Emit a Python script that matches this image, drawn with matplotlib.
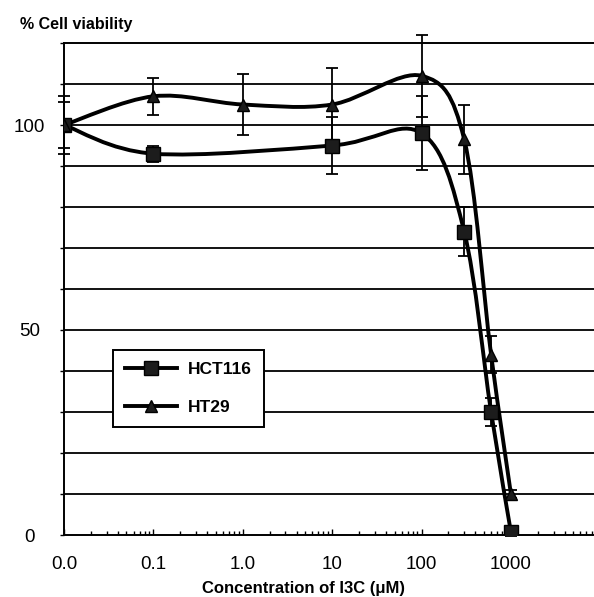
import numpy as np
import matplotlib.pyplot as plt
from matplotlib.path import Path
from matplotlib.patches import PathPatch
from matplotlib.lines import Line2D

plt.rcParams['font.family'] = ['Liberation Sans', 'DejaVu Sans']

# Dữ liệu
hct_x = [0.01, 0.1, 10, 100, 300, 600, 1000]
hct_y = [100, 93, 95, 98, 74, 30, 0.7]
hct_err = [7, 2, 7, 9, 6, 3.5, 1]

ht_x = [0.01, 0.1, 1, 10, 100, 300, 600, 1000]
ht_y = [100, 107, 105, 105, 112, 96.5, 44, 10]
ht_err = [5.5, 4.5, 7.5, 9, 10, 8.5, 4.5, 1]

xtick_vals = [0.01, 0.1, 1, 10, 100, 1000]
xtick_labels = ["0.0", "0.1", "1.0", "10", "100", "1000"]


# Đường cong làm mượt kiểu Excel (Bezier qua các điểm, trong không gian log x)
def smooth_path(xs, ys):
    lx = np.log10(xs)
    pts = np.column_stack([lx, ys])
    n = len(pts)
    verts = [pts[0]]
    codes = [Path.MOVETO]
    for i in range(n - 1):
        p0 = pts[i - 1] if i > 0 else pts[i]
        p1 = pts[i]
        p2 = pts[i + 1]
        p3 = pts[i + 2] if i + 2 < n else pts[i + 1]
        c1 = p1 + (p2 - p0) / 6
        c2 = p2 - (p3 - p1) / 6
        verts += [c1, c2, p2]
        codes += [Path.CURVE4] * 3
    verts = np.array(verts)
    verts[:, 0] = 10 ** verts[:, 0]
    return Path(verts, codes)


fig = plt.figure(figsize=(5.94, 5.97), dpi=100)
ax = fig.add_axes([64 / 594, 62 / 597, 530 / 594, 492 / 597])
ax.set_xscale('log')
ax.set_xlim(0.01, 8500)
ax.set_ylim(0, 120)

for v in range(10, 120, 10):
    ax.axhline(v, color='black', lw=1.3, zorder=1)

for xs, ys, errs, mk, ms in [(hct_x, hct_y, hct_err, 's', 10.5),
                             (ht_x, ht_y, ht_err, '^', 9)]:
    ax.add_patch(PathPatch(smooth_path(xs, ys), facecolor='none',
                           edgecolor='black', lw=2.8, zorder=3))
    eb = ax.errorbar(xs, ys, yerr=errs, fmt='none', ecolor='black',
                     elinewidth=1.3, capsize=4.5, capthick=1.3, zorder=4)
    for a in list(eb.lines[1]) + list(eb.lines[2]):
        a.set_clip_on(False)
    ax.plot(xs, ys, linestyle='none', marker=mk, markersize=ms,
            markerfacecolor='#1c1c1c', markeredgecolor='black', zorder=5)

for s in ['left', 'bottom', 'top']:
    ax.spines[s].set_linewidth(1.4)
ax.spines['right'].set_visible(False)

ax.set_xticks(xtick_vals)
ax.set_xticklabels(xtick_labels, fontsize=13.5)
ax.tick_params(axis='x', which='both', direction='in', length=4, width=1,
               pad=15)
ax.tick_params(axis='x', which='minor', length=3)

ax.set_yticks(range(0, 121, 10))
ax.set_yticklabels(['0', '', '', '', '', '50', '', '', '', '', '100', '', ''],
                   fontsize=13.5)
ax.tick_params(axis='y', direction='out', length=3, width=1, pad=22)
for t in ax.get_yticklabels():
    t.set_horizontalalignment('center')

handles = [Line2D([], [], color='black', lw=2.8, marker='s', markersize=10,
                  markerfacecolor='#1c1c1c', markeredgecolor='black'),
           Line2D([], [], color='black', lw=2.8, marker='^', markersize=9,
                  markerfacecolor='#1c1c1c', markeredgecolor='black')]
leg = ax.legend(handles, ['HCT116', 'HT29'], loc='upper left',
                bbox_to_anchor=(0.0925, 0.376), borderaxespad=0,
                fancybox=False, edgecolor='black', framealpha=1,
                handlelength=3.0, handletextpad=0.6, labelspacing=1.3,
                borderpad=0.7, prop={'weight': 'bold', 'size': 12.5})
leg.get_frame().set_linewidth(1.4)
leg.set_zorder(6)

fig.text(20 / 594, 1 - 25 / 597, '% Cell viability', fontsize=11.5,
         fontweight='bold', va='center', ha='left')
fig.text(304 / 594, 1 - 588 / 597, 'Concentration of I3C (μM)', fontsize=12,
         fontweight='bold', va='center', ha='center')

fig.savefig('out.png', dpi=100)
